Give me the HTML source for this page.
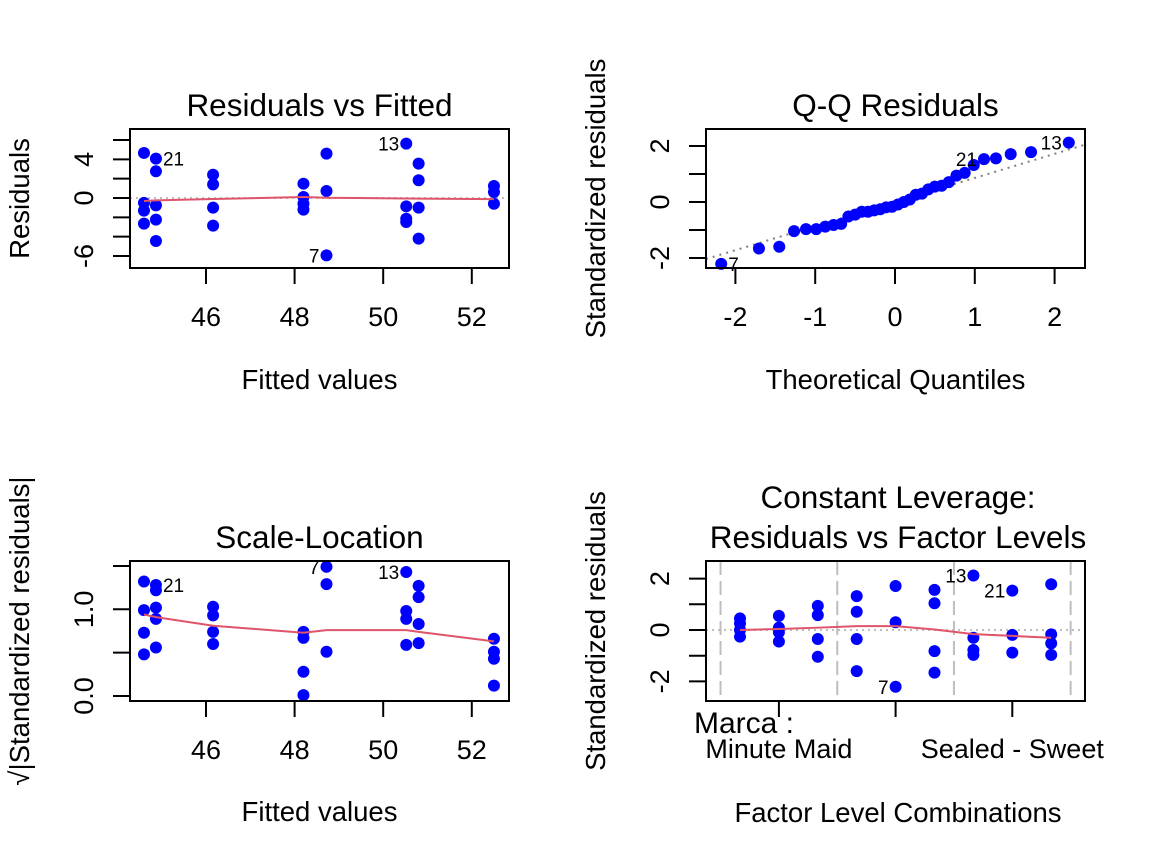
<!DOCTYPE html>
<html><head><meta charset="utf-8"><style>
html,body{margin:0;padding:0;background:#fff;}
svg{display:block;font-family:"Liberation Sans",Arial,sans-serif;}
</style></head><body>
<svg id="chart" width="1152" height="864" viewBox="0 0 1152 864" xmlns="http://www.w3.org/2000/svg"></svg>
<script>
// ---- data ----
const rvfFitted = [44.6,44.6,44.6,44.6, 44.87,44.87,44.87,44.87,44.87, 46.16,46.16,46.16,46.16, 48.2,48.2,48.2,48.2, 48.72,48.72,48.72, 50.52,50.52,50.52,50.52, 50.8,50.8,50.8,50.8, 52.5,52.5,52.5];
const rvfResid = [4.66,-0.5,-1.3,-2.65, 4.07,2.76,-0.76,-2.24,-4.45, 2.41,1.41,-1.0,-2.86, 1.48,0.1,-0.59,-1.2, 4.59,0.72,-5.93, 5.62,-0.86,-2.14,-2.48, 3.55,1.83,-1.0,-4.2, 1.24,0.62,-0.59];
const rvfIds = ['','','','', '21','','','','', '','','','', '','','','', '','','7', '13','','','', '','','','', '','',''];
const rvfSmoothX = [44.6,44.87,46.16,48.2,48.72,50.52,50.8,52.5];
const rvfSmoothY = [-0.31,-0.24,-0.1,0.1,0.02,-0.05,-0.07,-0.12];
const rvfXTicks = [46,48,50,52];
const rvfYTicks = [-6,-4,-2,0,2,4,6];
const rvfYLabels = [-6,0,4];

const slFitted = [44.6,44.6,44.6,44.6, 44.87,44.87,44.87,44.87,44.87, 46.16,46.16,46.16,46.16, 48.2,48.2,48.2,48.2, 48.72,48.72,48.72, 50.52,50.52,50.52,50.52, 50.8,50.8,50.8,50.8, 52.5,52.5,52.5,52.5];
const slValues = [1.32,0.99,0.73,0.48, 1.28,1.22,1.02,0.89,0.56, 1.03,0.93,0.74,0.6, 0.74,0.67,0.28,0.01, 1.49,1.29,0.51, 1.43,0.98,0.89,0.59, 1.27,1.14,0.83,0.61, 0.66,0.51,0.43,0.12];
const slIds = ['','','','', '21','','','','', '','','','', '','','','', '7','','', '13','','','', '','','','', '','','',''];
const slSmoothY = [0.94,0.91,0.81,0.73,0.76,0.76,0.74,0.63];
const slYTicks = [0,0.5,1,1.5];
const slYLabels = ['0.0','1.0'];

const flGroup = [1,1,1,1, 2,2,2,2, 3,3,3,3, 4,4,4,4, 5,5,5, 6,6,6,6, 7,7,7,7, 8,8,8, 9,9,9,9];
const flStd = [0.45,0.26,0,-0.26, 0.55,0.09,-0.09,-0.45, 0.94,0.58,-0.35,-1.04, 1.32,0.71,-0.35,-1.6, 1.71,0.3,-2.21, 1.56,1.04,-0.82,-1.66, 2.12,-0.3,-0.78,-0.97, 1.53,-0.19,-0.88, 1.78,-0.17,-0.52,-0.97];
const flIds = ['','','','', '','','','', '','','','', '','','','', '','','7', '','','','', '13','','','', '21','','', '','','',''];
const flSmooth = [0,0.04,0.09,0.15,0.15,0.02,-0.16,-0.23,-0.3];
const flLevels = ['Minute Maid','Sealed - Sweet'];
const flLevelTicks = [2,5,8];
const flBounds = [0.5,3.5,6.5,9.5];

const qqTicks = [-2,-1,0,1,2];
const qqLine = [0, 0.86]; // intercept, slope

// ---- helpers ----
const NS='http://www.w3.org/2000/svg';
const svg=document.getElementById('chart');
const TICK_FS=27, LAB_FS=27.5, TITLE_FS=31.5, PR=6;
function mk(tag, attrs, parent){const e=document.createElementNS(NS,tag);for(const k in attrs)e.setAttribute(k,attrs[k]);(parent||svg).appendChild(e);return e;}
function txt(s, attrs, parent){const e=mk('text',attrs,parent);e.textContent=s;return e;}
function qnorm(p){const a=[-39.69683028665376,220.9460984245205,-275.9285104469687,138.3577518672690,-30.66479806614716,2.506628277459239],b=[-54.47609879822406,161.5858368580409,-155.6989798598866,66.80131188771972,-13.28068155288572],c=[-0.007784894002430293,-0.3223964580411365,-2.400758277161838,-2.549732539343734,4.374664141464968,2.938163982698783],d=[0.007784695709041462,0.3224671290700398,2.445134137142996,3.754408661907416];let q,r;if(p<0.02425){q=Math.sqrt(-2*Math.log(p));return(((((c[0]*q+c[1])*q+c[2])*q+c[3])*q+c[4])*q+c[5])/((((d[0]*q+d[1])*q+d[2])*q+d[3])*q+1);}if(p>1-0.02425){q=Math.sqrt(-2*Math.log(1-p));return-(((((c[0]*q+c[1])*q+c[2])*q+c[3])*q+c[4])*q+c[5])/((((d[0]*q+d[1])*q+d[2])*q+d[3])*q+1);}q=p-0.5;r=q*q;return(((((a[0]*r+a[1])*r+a[2])*r+a[3])*r+a[4])*r+a[5])*q/(((((b[0]*r+b[1])*r+b[2])*r+b[3])*r+b[4])*r+1);}

function frame(g,x0,y0,x1,y1,name){
  const r=mk('rect',{x:x0,y:y0,width:x1-x0,height:y1-y0,fill:'none',stroke:'#000','stroke-width':2},g);
  
  
}
function yTicks(g,x0,ticks,labels,ys,name){
  ticks.forEach(t=>{const l=mk('line',{x1:x0-17,x2:x0,y1:ys(t),y2:ys(t),stroke:'#000','stroke-width':2},g);
    
    });
  labels.forEach(s=>{const v=parseFloat(s);const y=ys(v);
    const t=txt(String(s),{x:x0-37,y:y,'font-size':TICK_FS,'text-anchor':'middle',transform:`rotate(-90 ${x0-37} ${y})`},g);
    
    });
}
function xTicks(g,y1,ticks,labels,xs,name){
  ticks.forEach(t=>{const l=mk('line',{x1:xs(t),x2:xs(t),y1:y1,y2:y1+16,stroke:'#000','stroke-width':2},g);
    
    });
  labels.forEach(v=>{const t=txt(String(v),{x:xs(v),y:y1+58,'font-size':TICK_FS,'text-anchor':'middle'},g);
    
    });
}
function points(g,xsArr,ysArr,xs,ys,name){
  xsArr.forEach((v,i)=>{const c=mk('circle',{cx:xs(v),cy:ys(ysArr[i]),r:PR,fill:'#0000ff'},g);
    
    });
}
function ptLabels(g,xsArr,ysArr,ids,xs,ys,name,sideFn){
  ids.forEach((id,i)=>{if(!id)return;const px=xs(xsArr[i]),py=ys(ysArr[i]);const right=sideFn(id);
    const t=txt(id,{x:right?px+7:px-7,y:py+7,'font-size':19,'text-anchor':right?'start':'end'},g);
    
    });
}
function smooth(g,xsArr,ysArr,xs,ys,name){
  const p=mk('polyline',{points:xsArr.map((v,i)=>xs(v)+','+ys(ysArr[i])).join(' '),fill:'none',stroke:'#DF536B','stroke-width':2},g);
  
  
}
function labels(g,title,titleY,cx,xlab,xlabY,ylab,ylabX,cy,name){
  const t=txt(title,{x:cx,y:titleY,'font-size':TITLE_FS,'text-anchor':'middle'},g);
  
  
  const xl=txt(xlab,{x:cx,y:xlabY,'font-size':LAB_FS,'text-anchor':'middle'},g);
  
  
  const yl=txt(ylab,{x:ylabX,y:cy,'font-size':LAB_FS,'text-anchor':'middle',transform:`rotate(-90 ${ylabX} ${cy})`},g);
  
  
}

// ---- panel 1: Residuals vs Fitted ----
{
  const g=mk('g',{});
  
  
  const x0=130,x1=509,y0=129,y1=268;
  const xs=v=>206+(v-46)*44.3, ys=v=>198-v*9.67;
  const h=mk('line',{x1:x0,x2:x1,y1:ys(0),y2:ys(0),stroke:'#bebebe','stroke-width':2,'stroke-dasharray':'2 4'},g);
  
  
  points(g,rvfFitted,rvfResid,xs,ys,'rvf');
  smooth(g,rvfSmoothX,rvfSmoothY,xs,ys,'rvf');
  ptLabels(g,rvfFitted,rvfResid,rvfIds,xs,ys,'rvf',id=>id==='21');
  frame(g,x0,y0,x1,y1,'rvf');
  yTicks(g,x0,rvfYTicks,rvfYLabels,ys,'rvf');
  xTicks(g,y1,rvfXTicks,rvfXTicks,xs,'rvf');
  labels(g,'Residuals vs Fitted',116,319.5,'Fitted values',389,'Residuals',29,198.5,'rvf');
}
// ---- panel 2: Q-Q ----
{
  const g=mk('g',{});
  
  
  const x0=706,x1=1085,y0=129,y1=268;
  const xs=v=>895+v*79.8, ys=v=>202-v*28;
  const n=flStd.length;
  const order=flStd.map((v,i)=>i).sort((a,b)=>flStd[a]-flStd[b]);
  const theo=order.map((_,k)=>qnorm((k+1-0.5)/n));
  const samp=order.map(i=>flStd[i]);
  const ids=order.map(i=>flIds[i]);
  const lx0=(x0-895)/79.8, lx1=(x1-895)/79.8;
  const ql=mk('line',{x1:x0,x2:x1,y1:ys(qqLine[0]+qqLine[1]*lx0),y2:ys(qqLine[0]+qqLine[1]*lx1),stroke:'#808080','stroke-width':2,'stroke-dasharray':'2 5'},g);
  
  
  points(g,theo,samp,xs,ys,'qq');
  ptLabels(g,theo,samp,ids,xs,ys,'qq',id=>id==='7');
  frame(g,x0,y0,x1,y1,'qq');
  yTicks(g,x0,qqTicks.filter(t=>t>=-2&&t<=2),[-2,0,2],ys,'qq');
  xTicks(g,y1,qqTicks,qqTicks,xs,'qq');
  labels(g,'Q-Q Residuals',116,895.5,'Theoretical Quantiles',389,'Standardized residuals',605,198.5,'qq');
}
// ---- panel 3: Scale-Location ----
{
  const g=mk('g',{});
  
  
  const x0=130,x1=509,y0=561,y1=701;
  const xs=v=>206+(v-46)*44.3, ys=v=>696-v*86.7;
  points(g,slFitted,slValues,xs,ys,'sl');
  smooth(g,rvfSmoothX,slSmoothY,xs,ys,'sl');
  ptLabels(g,slFitted,slValues,slIds,xs,ys,'sl',id=>id==='21');
  frame(g,x0,y0,x1,y1,'sl');
  yTicks(g,x0,slYTicks,slYLabels,ys,'sl');
  xTicks(g,y1,rvfXTicks,rvfXTicks,xs,'sl');
  labels(g,'Scale-Location',548,319.5,'Fitted values',821,'\u221A|Standardized residuals|',29,631,'sl');
}
// ---- panel 4: Residuals vs Factor Levels ----
{
  const g=mk('g',{});
  
  
  const x0=706,x1=1085,y0=561,y1=701;
  const xs=v=>740+(v-1)*38.9, ys=v=>630-v*25.7;
  flBounds.forEach(b=>{const l=mk('line',{x1:xs(b),x2:xs(b),y1:y0,y2:y1,stroke:'#bebebe','stroke-width':2,'stroke-dasharray':'14 6'},g);
    
    });
  const h=mk('line',{x1:x0,x2:x1,y1:ys(0),y2:ys(0),stroke:'#bebebe','stroke-width':2,'stroke-dasharray':'2 4'},g);
  
  
  points(g,flGroup,flStd,xs,ys,'fl');
  smooth(g,flSmooth.map((_,i)=>i+1),flSmooth,xs,ys,'fl');
  ptLabels(g,flGroup,flStd,flIds,xs,ys,'fl',id=>false);
  frame(g,x0,y0,x1,y1,'fl');
  yTicks(g,x0,[-2,-1,0,1,2],[-2,0,2],ys,'fl');
  xTicks(g,y1,flLevelTicks,[],xs,'fl');
  const m=txt('Marca :',{x:694,y:733,'font-size':30},g);
  
  
  [flLevelTicks[0],flLevelTicks[2]].forEach((t,i)=>{const e=txt(flLevels[i],{x:xs(t),y:758,'font-size':27,'text-anchor':'middle'},g);
    
    });
  const t1=txt('Constant Leverage:',{x:898,y:508,'font-size':TITLE_FS,'text-anchor':'middle'},g);
  
  
  labels(g,'Residuals vs Factor Levels',548,898,'Factor Level Combinations',822,'Standardized residuals',605,631,'fl');
}
</script>
</body></html>
